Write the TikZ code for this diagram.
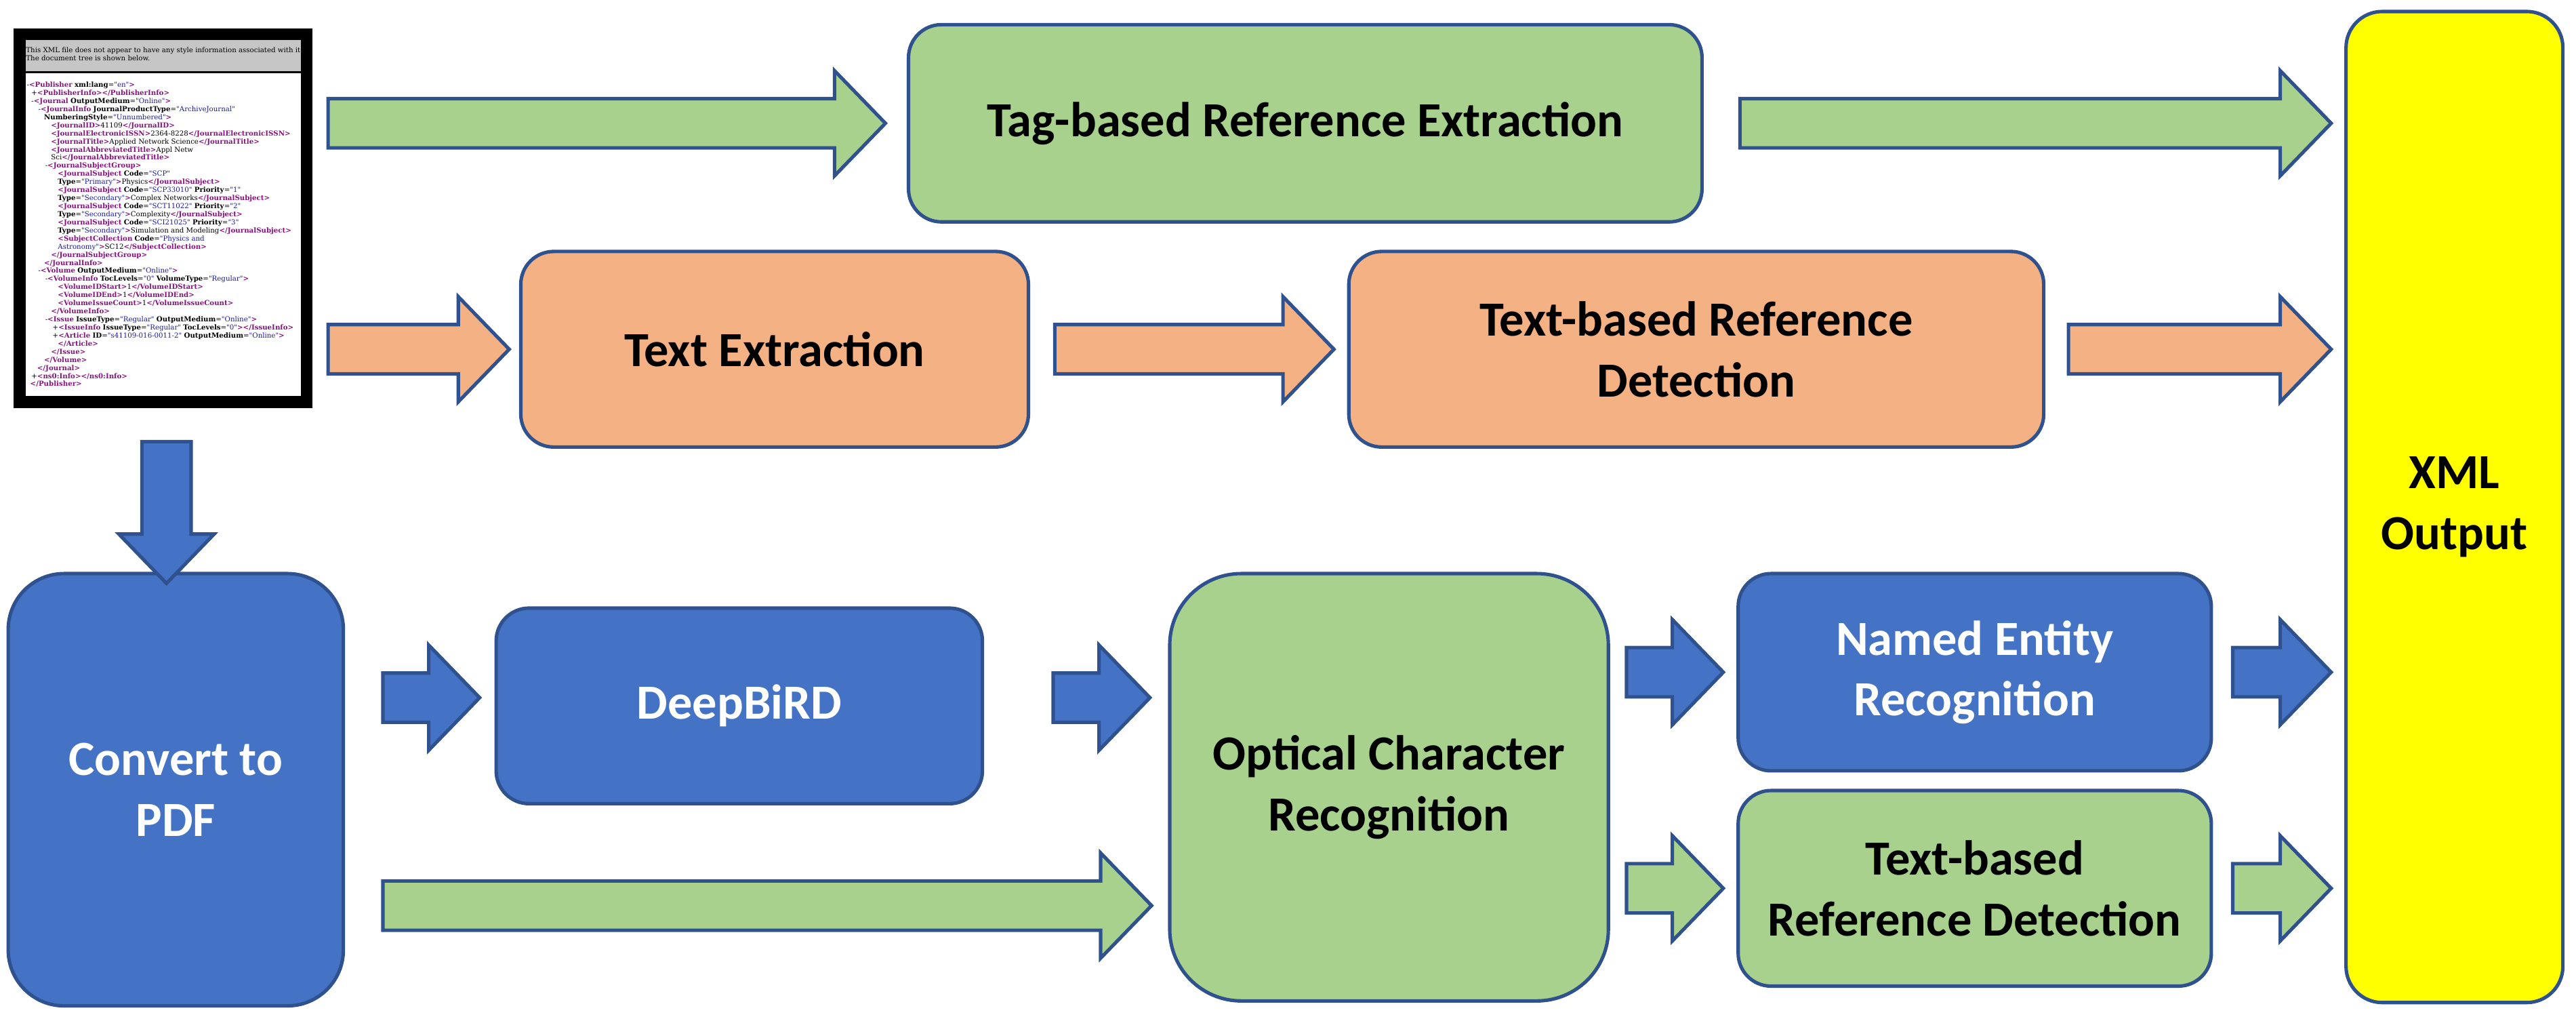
\documentclass[tikz,border=0pt]{standalone}
\usepackage{fontspec}
\setmainfont{Carlito}
\newfontfamily\xmlfont{DejaVu Serif}
\usetikzlibrary{positioning,calc}

\definecolor{boxgreen}{HTML}{A9D18E}
\definecolor{boxorange}{HTML}{F4B183}
\definecolor{boxblue}{HTML}{4472C4}
\definecolor{boxyellow}{HTML}{FFFF00}
\definecolor{edgeblue}{HTML}{2F528F}
\definecolor{xmltag}{HTML}{881280}
\definecolor{xmlval}{HTML}{1A1AA6}
\definecolor{xmlhead}{HTML}{C6C6C6}

% xml tree pieces
\newcommand{\xt}[1]{\textcolor{xmltag}{\textbf{#1}}}
\newcommand{\xa}[1]{\textbf{#1}}
\newcommand{\xv}[1]{\textcolor{xmlval}{"#1"}}
\newcommand{\ind}[1]{\hspace*{#1mm}}

% block arrow from #2 to #3 (horizontal)
\newcommand{\flowarrow}[3]{%
  \path[draw=edgeblue, line width=1.2pt, fill=#1, line join=miter] let \p1=#2, \p2=#3 in
    (\x1,{\y2+0.3cm}) -- ({\x2-0.62cm},{\y2+0.3cm}) -- ({\x2-0.62cm},{\y2+0.64cm}) -- (\x2,\y2)
    -- ({\x2-0.62cm},{\y2-0.64cm}) -- ({\x2-0.62cm},{\y2-0.3cm}) -- (\x1,{\y2-0.3cm}) -- cycle;}

\tikzset{
  stage/.style={draw=edgeblue, line width=1.2pt, rounded corners=0.4cm, align=center,
    inner sep=0pt, font=\fontsize{17}{21}\selectfont\bfseries},
  greenstage/.style={stage, fill=boxgreen, text=black},
  orangestage/.style={stage, fill=boxorange, text=black},
  bluestage/.style={stage, fill=boxblue, text=white},
}

\begin{document}
\begin{tikzpicture}
\useasboundingbox (0,0) rectangle (31.36,-12.4);

% screenshot of the xml file
\node[fill=black, minimum width=3.64cm, minimum height=4.62cm, inner sep=0pt, anchor=north west] (xml) at (0.16,-0.34) {};
\fill[xmlhead] ($(xml.north west)+(0.15,-0.148)$) rectangle ($(xml.north east)+(-0.15,-0.53)$);
\fill[white] ($(xml.north west)+(0.15,-0.555)$) rectangle ($(xml.south east)+(-0.15,0.16)$);
\begin{scope}
\clip ($(xml.north west)+(0.15,0)$) rectangle ($(xml.south east)+(-0.15,0)$);
\node[anchor=north west, inner sep=0pt, align=left, font=\xmlfont\fontsize{2.4}{2.8}\selectfont] (xmlhead) at ($(xml.north west)+(0.15,-0.23)$)
  {This XML file does not appear to have any style information associated with it.\\The document tree is shown below.};
\end{scope}
\node[anchor=north west, inner sep=0pt, align=left, font=\xmlfont\fontsize{2.4}{2.8}\selectfont] (xmltree) at ($(xml.north west)+(0.16,-0.65)$) {%
\ind{0}-\xt{<Publisher} \xa{xml:lang}=\xv{en}\xt{>}\\
\ind{0.56}+\xt{<PublisherInfo></PublisherInfo>}\\
\ind{0.56}-\xt{<Journal} \xa{OutputMedium}=\xv{Online}\xt{>}\\
\ind{1.4}-\xt{<JournalInfo} \xa{JournalProductType}=\xv{ArchiveJournal}\\
\ind{2.1}\xa{NumberingStyle}=\xv{Unnumbered}\xt{>}\\
\ind{2.94}\xt{<JournalID>}41109\xt{</JournalID>}\\
\ind{2.94}\xt{<JournalElectronicISSN>}2364-8228\xt{</JournalElectronicISSN>}\\
\ind{2.94}\xt{<JournalTitle>}Applied Network Science\xt{</JournalTitle>}\\
\ind{2.94}\xt{<JournalAbbreviatedTitle>}Appl Netw\\
\ind{2.94}Sci\xt{</JournalAbbreviatedTitle>}\\
\ind{2.24}-\xt{<JournalSubjectGroup>}\\
\ind{3.78}\xt{<JournalSubject} \xa{Code}=\xv{SCP}\\
\ind{3.78}\xa{Type}=\xv{Primary}\xt{>}Physics\xt{</JournalSubject>}\\
\ind{3.78}\xt{<JournalSubject} \xa{Code}=\xv{SCP33010} \xa{Priority}=\xv{1}\\
\ind{3.78}\xa{Type}=\xv{Secondary}\xt{>}Complex Networks\xt{</JournalSubject>}\\
\ind{3.78}\xt{<JournalSubject} \xa{Code}=\xv{SCT11022} \xa{Priority}=\xv{2}\\
\ind{3.78}\xa{Type}=\xv{Secondary}\xt{>}Complexity\xt{</JournalSubject>}\\
\ind{3.78}\xt{<JournalSubject} \xa{Code}=\xv{SCI21025} \xa{Priority}=\xv{3}\\
\ind{3.78}\xa{Type}=\xv{Secondary}\xt{>}Simulation and Modeling\xt{</JournalSubject>}\\
\ind{3.78}\xt{<SubjectCollection} \xa{Code}=\textcolor{xmlval}{"Physics and}\\
\ind{3.78}\textcolor{xmlval}{Astronomy"}\xt{>}SC12\xt{</SubjectCollection>}\\
\ind{2.94}\xt{</JournalSubjectGroup>}\\
\ind{2.1}\xt{</JournalInfo>}\\
\ind{1.4}-\xt{<Volume} \xa{OutputMedium}=\xv{Online}\xt{>}\\
\ind{2.24}-\xt{<VolumeInfo} \xa{TocLevels}=\xv{0} \xa{VolumeType}=\xv{Regular}\xt{>}\\
\ind{3.78}\xt{<VolumeIDStart>}1\xt{</VolumeIDStart>}\\
\ind{3.78}\xt{<VolumeIDEnd>}1\xt{</VolumeIDEnd>}\\
\ind{3.78}\xt{<VolumeIssueCount>}1\xt{</VolumeIssueCount>}\\
\ind{2.94}\xt{</VolumeInfo>}\\
\ind{2.24}-\xt{<Issue} \xa{IssueType}=\xv{Regular} \xa{OutputMedium}=\xv{Online}\xt{>}\\
\ind{3.14}+\xt{<IssueInfo} \xa{IssueType}=\xv{Regular} \xa{TocLevels}=\xv{0}\xt{></IssueInfo>}\\
\ind{3.14}+\xt{<Article} \xa{ID}=\xv{s41109-016-0011-2} \xa{OutputMedium}=\xv{Online}\xt{>}\\
\ind{3.78}\xt{</Article>}\\
\ind{2.94}\xt{</Issue>}\\
\ind{2.1}\xt{</Volume>}\\
\ind{1.26}\xt{</Journal>}\\
\ind{0.56}+\xt{<ns0:Info></ns0:Info>}\\
\ind{0.42}\xt{</Publisher>}};

% stages
\node[greenstage, minimum width=9.66cm, minimum height=2.4cm] (tag) at (15.89,-1.5) {Tag-based Reference Extraction};
\node[stage, fill=boxyellow, rounded corners=0.44cm, minimum width=2.64cm, minimum height=12.06cm] (out) at (29.88,-6.17) {XML\\Output};
\node[orangestage, minimum width=6.18cm, minimum height=2.38cm] (textex) at (9.43,-4.25) {Text Extraction};
\node[orangestage, minimum width=8.46cm, minimum height=2.38cm] (textdet) at (20.65,-4.25) {Text-based Reference\\Detection};
\node[bluestage, rounded corners=0.68cm, minimum width=4.08cm, minimum height=5.26cm] (pdf) at (2.14,-9.61) {Convert to\\PDF};
\node[bluestage, minimum width=5.92cm, minimum height=2.38cm] (deep) at (9.0,-8.59) {DeepBiRD};
\node[greenstage, rounded corners=0.87cm, minimum width=5.34cm, minimum height=5.2cm] (ocr) at (16.91,-9.58) {Optical Character\\Recognition};
\node[bluestage, minimum width=5.76cm, minimum height=2.4cm] (ner) at (24.04,-8.18) {Named Entity\\Recognition};
\node[greenstage, minimum width=5.76cm, minimum height=2.38cm] (refdet) at (24.04,-10.81) {Text-based\\Reference Detection};

% arrows
\flowarrow{boxgreen}{($(xml.east |- tag.west)+(0.18,0)$)}{($(tag.west)+(-0.26,0)$)}
\flowarrow{boxgreen}{($(tag.east)+(0.44,0)$)}{($(out.west |- tag.east)+(-0.16,0)$)}
\flowarrow{boxorange}{($(xml.east |- textex.west)+(0.18,0)$)}{($(textex.west)+(-0.12,0)$)}
\flowarrow{boxorange}{($(textex.east)+(0.3,0)$)}{($(textdet.west)+(-0.16,0)$)}
\flowarrow{boxorange}{($(textdet.east)+(0.28,0)$)}{($(out.west |- textdet.east)+(-0.16,0)$)}
\flowarrow{boxblue}{($(pdf.east |- deep.west)+(0.46,0.1)$)}{($(deep.west)+(-0.18,0.1)$)}
\flowarrow{boxblue}{($(deep.east)+(0.84,0.1)$)}{($(ocr.west |- deep.west)+(-0.22,0.1)$)}
\flowarrow{boxgreen}{($(pdf.east |- ocr.west)+(0.46,-1.44)$)}{($(ocr.west)+(-0.2,-1.44)$)}
\flowarrow{boxblue}{($(ocr.east |- ner.west)+(0.2,0)$)}{($(ner.west)+(-0.16,0)$)}
\flowarrow{boxgreen}{($(ocr.east |- refdet.west)+(0.2,0)$)}{($(refdet.west)+(-0.16,0)$)}
\flowarrow{boxblue}{($(ner.east)+(0.24,0)$)}{($(out.west |- ner.east)+(-0.16,0)$)}
\flowarrow{boxgreen}{($(refdet.east)+(0.24,0)$)}{($(out.west |- refdet.east)+(-0.16,0)$)}

% down arrow to the pdf conversion
\path[draw=edgeblue, line width=1.2pt, fill=boxblue, line join=miter]
  let \p1=($(xml.south)+(0.04,-0.4)$), \p2=($(xml.south |- pdf.north)+(0.04,-0.14)$) in
  ({\x1-0.3cm},\y1) -- ({\x1-0.3cm},{\y2+0.6cm}) -- ({\x1-0.58cm},{\y2+0.6cm}) -- (\x1,\y2)
  -- ({\x1+0.58cm},{\y2+0.6cm}) -- ({\x1+0.3cm},{\y2+0.6cm}) -- ({\x1+0.3cm},\y1) -- cycle;
\end{tikzpicture}
\end{document}
